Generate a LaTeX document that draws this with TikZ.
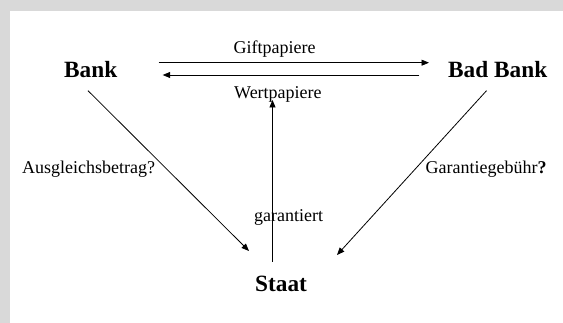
\documentclass[tikz,border=0pt]{standalone}
\usepackage{fontspec}
\setmainfont{Liberation Serif}
\usetikzlibrary{arrows.meta}
\definecolor{framegray}{RGB}{217,217,217}
\begin{document}
\begin{tikzpicture}[x=1pt,y=-1pt,
  lbl/.style={anchor=base west,inner sep=0pt,font=\fontsize{18}{20}\selectfont},
  actor/.style={anchor=base west,inner sep=0pt,font=\fontsize{23.3}{26}\selectfont\bfseries},
  conn/.style={line width=0.8pt,-{Triangle[length=7.5pt,width=6pt]}}]
\useasboundingbox (0,0) rectangle (563,323);
\fill[framegray] (0,0) rectangle (563,323);
\fill[white] (9.7,11.5) rectangle (563,323);
% actors
\node[actor] (bank) at (64,77.7) {Bank};
\node[actor] (badbank) at (448,77.7) {Bad Bank};
\node[actor] (staat) at (255,292) {Staat};
% labels
\node[lbl] (gift) at (233.4,53.3) {Giftpapiere};
\node[lbl] (wert) at (234,98.3) {Wertpapiere};
\node[lbl] (ausgl) at (22,174) {Ausgleichsbetrag?};
\node[lbl] (garg) at (425.5,174) {Garantiegebühr\textbf{?}};
\node[lbl] (gar) at (254,221.7) {garantiert};
% connector ends
\coordinate (t1) at (158.7,62.7);
\coordinate (t2) at (429,62.7);
\coordinate (u1) at (419.4,75);
\coordinate (u2) at (162.7,75);
\coordinate (b1) at (88,90.7);
\coordinate (b2) at (249,251);
\coordinate (d1) at (486.5,90.7);
\coordinate (d2) at (337,255);
\coordinate (s1) at (272.5,261.7);
\coordinate (s2) at (272.5,100);
% connectors
\draw[conn] (t1) -- (t2);
\draw[conn] (u1) -- (u2);
\draw[conn] (b1) -- (b2);
\draw[conn] (d1) -- (d2);
\draw[conn] (s1) -- (s2);
\end{tikzpicture}
\end{document}
